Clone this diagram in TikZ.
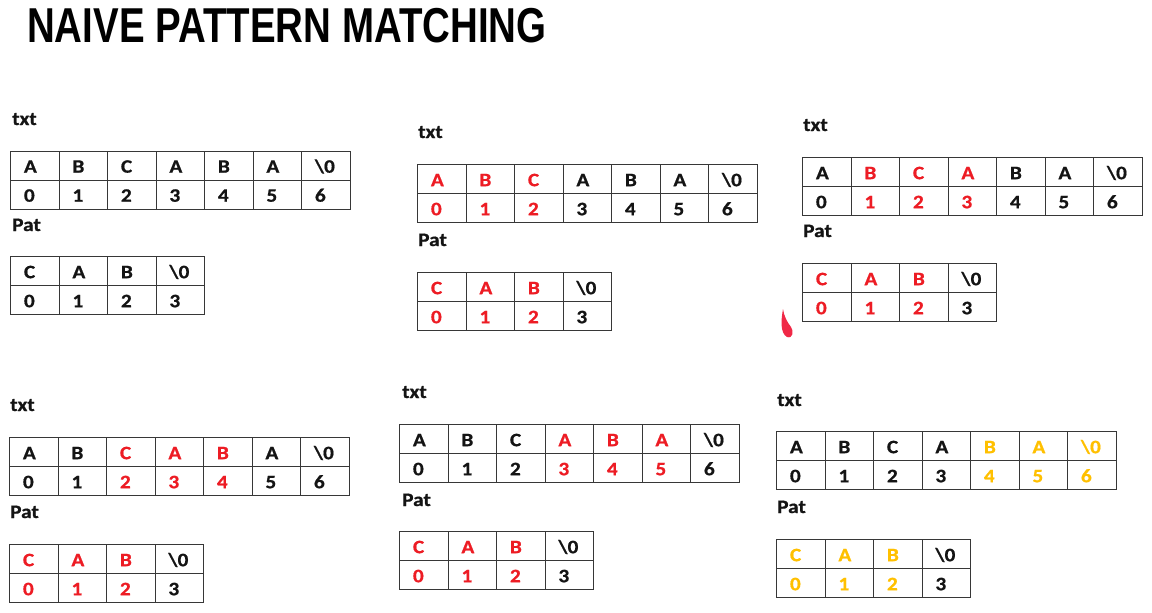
\documentclass[tikz,border=0pt]{standalone}
\usepackage{fontspec}
\setmainfont{Carlito}[FakeStretch=1.12, BoldFeatures={FakeBold=0.7}]
\newfontfamily\titlefont{Liberation Sans}[FakeStretch=0.785]
\definecolor{hl}{RGB}{237,28,36}
\definecolor{gold}{RGB}{255,192,0}
\definecolor{linec}{RGB}{55,55,55}
\definecolor{ink}{RGB}{20,20,20}
\definecolor{pen}{RGB}{240,40,70}
\newcommand\nul{\textbackslash 0}
\tikzset{
  cell/.style={draw=linec, line width=1.4pt, minimum width=48.5pt, minimum height=29pt,
    anchor=north west, inner xsep=13pt, inner ysep=0pt, text width=22pt, align=left,
    text height=14pt, text depth=0pt, font=\fontsize{19}{19}\selectfont\bfseries},
  lbl/.style={anchor=base west, inner sep=0pt, text=ink, font=\fontsize{19}{19}\selectfont\bfseries},
}
\newcommand\txttable[4]{%
  \foreach \ch/\col [count=\i from 0] in {#4} {
    \node[cell,text=\col] (#1c\i) at ({#2+48.5*\i},#3) {\ch};
    \node[cell,text=\col] (#1n\i) at ({#2+48.5*\i},{#3+29}) {\i};
  }}
\begin{document}
\begin{tikzpicture}[x=1pt,y=-1pt]
\fill[white] (0,0) rectangle (1152,613);
\useasboundingbox (0,0) rectangle (1152,613);
\node[anchor=base west, inner sep=0pt, font=\titlefont\bfseries\fontsize{49}{49}\selectfont] (title) at (27,42) {NAIVE PATTERN MATCHING};

% panel 1
\node[lbl] (t1) at (12,125) {txt};
\txttable{a}{10}{150.5}{A/ink,B/ink,C/ink,A/ink,B/ink,A/ink,\nul/ink}
\node[lbl] (p1) at (12,231) {Pat};
\txttable{ap}{10}{256}{C/ink,A/ink,B/ink,\nul/ink}

% panel 2
\node[lbl] (t2) at (418,138) {txt};
\txttable{b}{417}{164}{A/hl,B/hl,C/hl,A/ink,B/ink,A/ink,\nul/ink}
\node[lbl] (p2) at (418,246) {Pat};
\txttable{bp}{417}{272}{C/hl,A/hl,B/hl,\nul/ink}

% panel 3
\node[lbl] (t3) at (803,131) {txt};
\txttable{c}{802}{157}{A/ink,B/hl,C/hl,A/hl,B/ink,A/ink,\nul/ink}
\node[lbl] (p3) at (803,237) {Pat};
\txttable{cp}{802}{263}{C/hl,A/hl,B/hl,\nul/ink}

% panel 4
\node[lbl] (t4) at (10,411) {txt};
\txttable{d}{9}{437}{A/ink,B/ink,C/hl,A/hl,B/hl,A/ink,\nul/ink}
\node[lbl] (p4) at (10,518) {Pat};
\txttable{dp}{9}{544}{C/hl,A/hl,B/hl,\nul/ink}

% panel 5
\node[lbl] (t5) at (402,398) {txt};
\txttable{e}{399}{424}{A/ink,B/ink,C/ink,A/hl,B/hl,A/hl,\nul/ink}
\node[lbl] (p5) at (402,506) {Pat};
\txttable{ep}{399}{531}{C/hl,A/hl,B/hl,\nul/ink}

% panel 6
\node[lbl] (t6) at (777,406) {txt};
\txttable{f}{776}{431}{A/ink,B/ink,C/ink,A/ink,B/gold,A/gold,\nul/gold}
\node[lbl] (p6) at (777,513) {Pat};
\txttable{fp}{776}{539}{C/gold,A/gold,B/gold,\nul/ink}

% pen mark
\fill[pen] (783,309) .. controls (781,320) and (780,333) .. (787,337)
  .. controls (793,339) and (794,331) .. (791,327)
  .. controls (787,322) and (784,316) .. cycle;
\end{tikzpicture}
\end{document}
